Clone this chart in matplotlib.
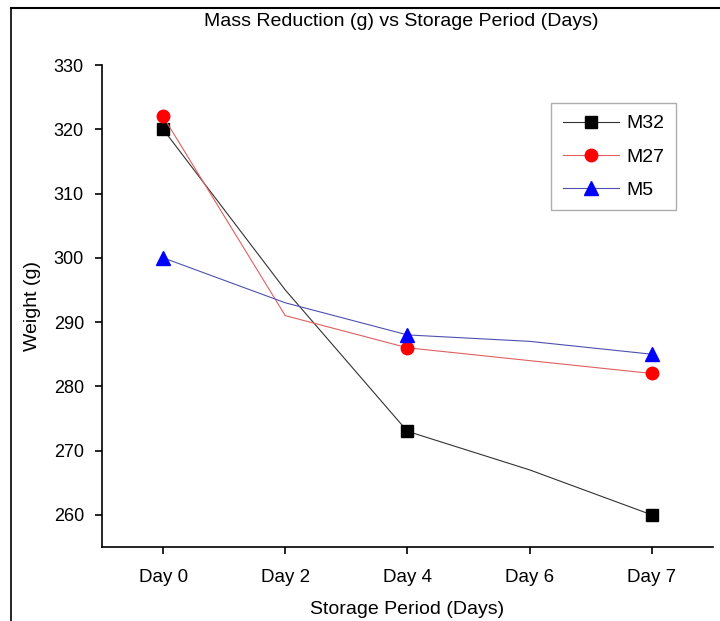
import matplotlib.pyplot as plt
from matplotlib.lines import Line2D

plt.rcParams['font.family'] = ['Liberation Sans', 'DejaVu Sans']

# Storage days (categories on the x axis)
days = ["Day 0", "Day 2", "Day 4", "Day 6", "Day 7"]

# Weight (g) for each sample
m32 = [320, 295, 273, 267, 260]
m27 = [322, 291, 286, 284, 282]
m5 = [300, 293, 288, 287, 285]

# markers only at the measured days
marked = [0, 2, 4]

fig = plt.figure(figsize=(7.2, 6.21), dpi=100)
ax = fig.add_axes([0.1417, 0.1192, 0.8483, 0.7761])

x = list(range(len(days)))
ax.plot(x, m32, color="#333333", lw=0.8, marker="s", ms=8,
        mfc="black", mec="black", markevery=marked, label="M32")
ax.plot(x, m27, color="#e06060", lw=0.8, marker="o", ms=9,
        mfc="red", mec="red", markevery=marked, label="M27")
ax.plot(x, m5, color="#5050b0", lw=0.8, marker="^", ms=10,
        mfc="blue", mec="blue", markevery=marked, label="M5")

ax.set_xlim(-0.5, 4.5)
ax.set_ylim(255, 330)
ax.set_xticks(x)
ax.set_xticklabels(days)
ax.set_yticks(range(260, 331, 10))

ax.spines["top"].set_visible(False)
ax.spines["right"].set_visible(False)
ax.spines["left"].set_linewidth(1.2)
ax.spines["bottom"].set_linewidth(1.2)
ax.tick_params(axis="both", direction="out", length=5, width=1.2)
ax.tick_params(axis="x", pad=11, labelsize=13.5)
ax.tick_params(axis="y", pad=8, labelsize=13)

ax.set_xlabel("Storage Period (Days)", fontsize=14, labelpad=11)
ax.set_ylabel("Weight (g)", fontsize=14, labelpad=9)
fig.text(0.557, 0.966, "Mass Reduction (g) vs Storage Period (Days)",
         ha="center", va="center", fontsize=14)

leg = ax.legend(loc="upper right", bbox_to_anchor=(0.939, 0.921),
                borderaxespad=0, fontsize=14, frameon=True, fancybox=False,
                handlelength=2.9, handletextpad=0.35, borderpad=0.6,
                labelspacing=0.8)
leg.get_frame().set_edgecolor("#999999")
leg.get_frame().set_linewidth(1.0)

# outer frame lines (left and top) seen in the original image
fig.add_artist(Line2D([0.015, 0.015], [0.0, 0.987], color="black", lw=1.2,
                      transform=fig.transFigure))
fig.add_artist(Line2D([0.015, 1.0], [0.987, 0.987], color="black", lw=1.5,
                      transform=fig.transFigure))

fig.savefig("out.png", dpi=100)
